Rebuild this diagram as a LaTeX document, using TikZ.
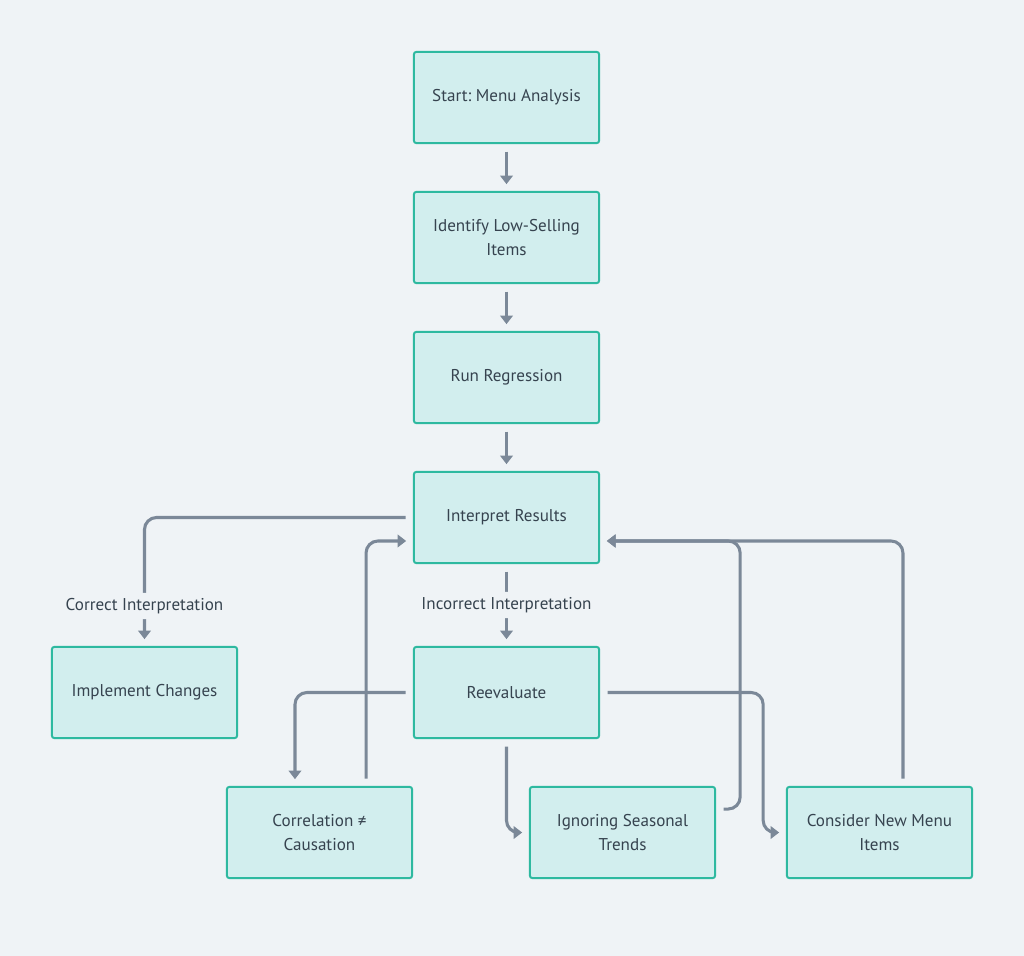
\documentclass[tikz,border=0pt]{standalone}
\usepackage{fontspec}
\setmainfont{PT Sans}
\usetikzlibrary{arrows.meta}
\definecolor{bgcol}{HTML}{EFF3F6}
\definecolor{boxfill}{HTML}{D2EEEE}
\definecolor{boxline}{HTML}{2EB9A0}
\definecolor{linecol}{HTML}{7B8898}
\definecolor{txtcol}{HTML}{36434F}
\frenchspacing
\begin{document}
\begin{tikzpicture}[x=0.75pt,y=-0.75pt,
    box/.style={draw=boxline,fill=boxfill,line width=1.5pt,rounded corners=2pt,
      minimum width=139pt,minimum height=68.5pt,align=center,
      text=txtcol,font=\fontsize{12.8}{17.5}\selectfont},
    link/.style={draw=linecol,line width=2.3pt,rounded corners=9pt,
      shorten <=5.5pt,shorten >=5pt,-{Triangle[width=9.5pt,length=6.5pt]}},
    lbl/.style={fill=bgcol,text=txtcol,inner sep=4pt,font=\fontsize{12.8}{14}\selectfont}]
  \fill[bgcol] (0,0) rectangle (1024,956);
  \useasboundingbox (0,0) rectangle (1024,956);
  % boxes
  \node[box] (start) at (506.5,97.5) {Start: Menu Analysis};
  \node[box] (identify) at (506.5,237.5) {Identify Low-Selling\\Items};
  \node[box] (regress) at (506.5,377.5) {Run Regression};
  \node[box] (interp) at (506.5,517.5) {Interpret Results};
  \node[box] (implement) at (144.5,692.5) {Implement Changes};
  \node[box] (reeval) at (506.5,692.5) {Reevaluate};
  \node[box] (corr) at (319.5,832.5) {Correlation ≠\\Causation};
  \node[box] (ignore) at (622.5,832.5) {Ignoring Seasonal\\Trends};
  \node[box] (newitems) at (879.5,832.5) {Consider New Menu\\Items};
  % links
  \draw[link] (start) -- (identify);
  \draw[link] (identify) -- (regress);
  \draw[link] (regress) -- (interp);
  \draw[link] (interp.west) -| node[lbl,pos=0.845] {Correct Interpretation} (implement.north);
  \draw[link] (interp) -- node[lbl] {Incorrect Interpretation} (reeval);
  \draw[link] (reeval.west) -| ([xshift=-18.4pt]corr.north);
  \draw[link] ([xshift=34.9pt]corr.north) |- ([yshift=-17.6pt]interp.west);
  \draw[link] (reeval.south) |- (ignore.west);
  \draw[link] ([yshift=17.6pt]ignore.east) -- ++(24,0) |- ([yshift=-17.6pt]interp.east);
  \draw[link] (reeval.east) -- ++(163,0) |- (newitems.west);
  \draw[link] ([xshift=17.6pt]newitems.north) |- ([yshift=-17.6pt]interp.east);
\end{tikzpicture}
\end{document}
